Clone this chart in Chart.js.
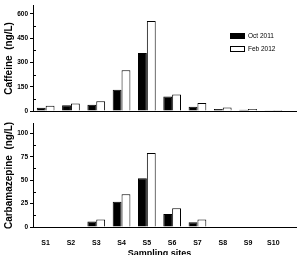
<!DOCTYPE html>
<html>
<head>
<meta charset="utf-8">
<script src="https://cdn.jsdelivr.net/npm/chart.js@4"></script>
<style>
  body { margin: 0; width: 297px; height: 255px; overflow: hidden; background: #fff; position: relative; font-family: "Liberation Sans", Arial, sans-serif; }
  canvas { position: absolute; left: 0; }
  #top { top: 0; }
  #bottom { top: 118px; }
  .leg { position: absolute; left: 230px; font-size: 6.5px; line-height: 7px; color: #000; white-space: nowrap; }
  .leg span { display: inline-block; width: 15px; height: 6px; box-sizing: border-box; border: 1px solid #000; vertical-align: middle; margin-right: 3px; }
</style>
</head>
<body>
<canvas id="top" width="297" height="118"></canvas>
<canvas id="bottom" width="297" height="145"></canvas>
<div class="leg" style="top:32px"><span style="background:#000"></span>Oct 2011</div>
<div class="leg" style="top:45px"><span style="background:#fff"></span>Feb 2012</div>
<script>
const sites = ['S1', 'S2', 'S3', 'S4', 'S5', 'S6', 'S7', 'S8', 'S9', 'S10'];
const seriesNames = ['Oct 2011', 'Feb 2012'];
const caffeineOct = [20, 36, 38, 132, 358, 90, 26, 12, 8, 4];
const caffeineFeb = [32, 46, 60, 252, 556, 102, 50, 22, 12, 6];
const carbamazepineOct = [0, 0, 6, 27, 52, 14, 5, 0, 0, 0];
const carbamazepineFeb = [0, 0, 8, 35, 79, 20, 8, 0, 0, 0];

const FONT = '"Liberation Sans", Arial, sans-serif';

// x axis line runs on to the right edge, minor ticks sit inside the y axis
const axisExtras = {
    id: 'axisExtras',
    afterDraw(chart) {
        const { ctx, chartArea } = chart;
        const y = chart.scales.y;
        ctx.save();
        ctx.strokeStyle = '#000';
        ctx.lineWidth = 1;
        ctx.beginPath();
        ctx.moveTo(chartArea.right, chartArea.bottom + 0.5);
        ctx.lineTo(chart.width, chartArea.bottom + 0.5);
        const t = y.ticks;
        const half = (t[1].value - t[0].value) / 2;
        for (let i = 0; i < t.length; i++) {
            const v = t[i].value + half;
            if (v > y.max) break;
            const py = Math.round(y.getPixelForValue(v)) + 0.5;
            ctx.moveTo(chartArea.left, py);
            ctx.lineTo(chartArea.left + 3, py);
        }
        ctx.stroke();
        ctx.restore();
    }
};

function makeBars(canvasId, oct, feb, yMax, step, yTitle, titlePad, showX) {
    const ctx = document.getElementById(canvasId);
    new Chart(ctx, {
        type: 'bar',
        data: {
            labels: sites,
            datasets: [{
                label: seriesNames[0],
                data: oct,
                backgroundColor: '#000',
                borderColor: '#000',
                borderWidth: 1
            }, {
                label: seriesNames[1],
                data: feb,
                backgroundColor: '#fff',
                borderColor: '#000',
                borderWidth: 1
            }]
        },
        options: {
            responsive: false,
            animation: false,
            categoryPercentage: 0.7,
            barPercentage: 1,
            layout: { padding: { top: 0, right: 11, left: 0, bottom: 0 } },
            plugins: { legend: { display: false }, tooltip: { enabled: false } },
            scales: {
                x: {
                    grid: { display: false },
                    border: { display: true, color: '#000', width: 1 },
                    ticks: {
                        display: showX,
                        color: '#000',
                        padding: 4,
                        maxRotation: 0,
                        font: { family: FONT, size: 7, weight: 'bold' }
                    },
                    title: {
                        display: showX,
                        text: 'Sampling sites',
                        color: '#000',
                        padding: { top: 0, bottom: 4 },
                        font: { family: FONT, size: 9, weight: 'bold' }
                    },
                    afterFit: s => { s.height = showX ? 36 : 7; }
                },
                y: {
                    min: 0,
                    max: yMax,
                    grid: {
                        drawOnChartArea: false,
                        color: '#000',
                        tickLength: 3
                    },
                    border: { display: true, color: '#000', width: 1 },
                    ticks: {
                        stepSize: step,
                        includeBounds: false,
                        color: '#000',
                        padding: 2,
                        font: { family: FONT, size: 6.5, weight: 'bold' }
                    },
                    title: {
                        display: true,
                        text: yTitle,
                        color: '#000',
                        padding: { top: titlePad, bottom: 0 },
                        font: { family: FONT, size: 10, weight: 'bold' }
                    },
                    afterFit: s => { s.width = 33; }
                }
            }
        },
        plugins: [axisExtras]
    });
}

makeBars('top', caffeineOct, caffeineFeb, 650, 150, 'Caffeine  (ng/L)', 3, false);
makeBars('bottom', carbamazepineOct, carbamazepineFeb, 110, 25, 'Carbamazepine  (ng/L)', 3, true);
</script>
</body>
</html>
